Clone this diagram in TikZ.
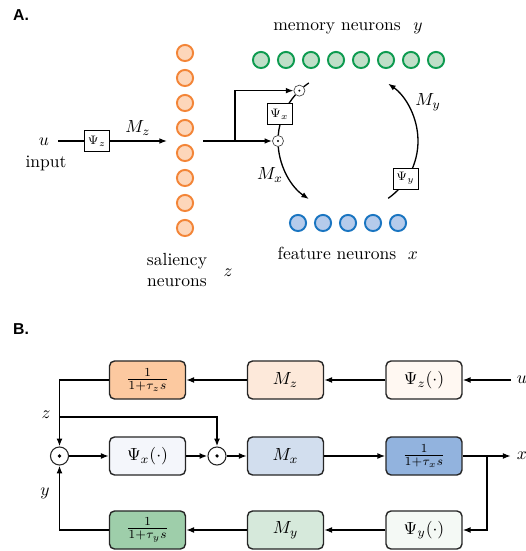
\documentclass[tikz,border=0pt]{standalone}
\usepackage{fontspec}
\newfontfamily\panelfont{Liberation Sans}
\usetikzlibrary{arrows.meta,calc}
\definecolor{orS}{RGB}{243,133,56}
\definecolor{orF}{RGB}{253,214,186}
\definecolor{grS}{RGB}{14,155,80}
\definecolor{grF}{RGB}{192,223,200}
\definecolor{blS}{RGB}{26,117,193}
\definecolor{blF}{RGB}{182,203,235}
\definecolor{bTz}{RGB}{252,201,160}
\definecolor{bMz}{RGB}{253,233,218}
\definecolor{bPz}{RGB}{255,248,242}
\definecolor{bPx}{RGB}{244,246,251}
\definecolor{bMx}{RGB}{210,222,238}
\definecolor{bTx}{RGB}{146,179,222}
\definecolor{bTy}{RGB}{158,206,170}
\definecolor{bMy}{RGB}{214,233,219}
\definecolor{bPy}{RGB}{244,249,245}
\begin{document}
\begin{tikzpicture}[x=0.57pt,y=0.57pt,
  neuron/.style={circle,line width=1.1pt,minimum size=9.2pt,inner sep=0pt},
  smallbox/.style={draw,line width=0.5pt,fill=white,minimum width=14.3pt,minimum height=12pt,inner sep=0pt,font=\scriptsize},
  odotA/.style={circle,draw=black!70,line width=0.4pt,fill=white,minimum size=6.3pt,inner sep=0pt,
    path picture={\fill[black] (path picture bounding box.center) circle (0.6pt);}},
  odotB/.style={circle,draw=black!85,line width=0.6pt,fill=white,minimum size=10.3pt,inner sep=0pt,
    path picture={\fill[black] (path picture bounding box.center) circle (1pt);}},
  blk/.style={draw=black!85,line width=0.8pt,rounded corners=2.9pt,minimum width=43.3pt,minimum height=21.7pt,inner sep=0pt},
  conA/.style={line width=0.75pt},
  arrA/.style={conA,-{Latex[length=4.3pt,width=3.2pt]}},
  conB/.style={line width=0.85pt},
  arrB/.style={conB,-{Latex[length=4.5pt,width=3.4pt]}},
  panel/.style={font=\panelfont\bfseries\fontsize{9}{10}\selectfont},
  lab/.style={anchor=base,inner sep=0pt},
]
\useasboundingbox (0,0) rectangle (526,551);

% ---------------- Panel A ----------------
\node[panel] (lA) at (21,536) {A.};
\foreach \i in {0,...,7}
  \node[neuron,draw=orS,fill=orF] (z\i) at (185,498-25*\i) {};
\foreach \i in {0,...,7}
  \node[neuron,draw=grS,fill=grF] (y\i) at (261+25*\i,491) {};
\foreach \i in {0,...,4}
  \node[neuron,draw=blS,fill=blF] (x\i) at (298+25*\i,328) {};

\node[lab] (memlab) at (337,520) {memory neurons};
\node[lab] (ylabA) at (418,520) {$y$};
\node[lab] (featlab) at (337,291) {feature neurons};
\node[lab] (xlabA) at (413,291) {$x$};
\node[lab,align=center] (sallab) at (177,264) {saliency\\neurons};
\node[lab] (zlabA) at (228,274) {$z$};
\node[lab] (uA) at (44,405) {$u$};
\node[lab] (inlab) at (46,383) {input};
\node[lab] (mzlab) at (138,418) {$M_z$};
\node[lab] (mxlab) at (270,371) {$M_x$};
\node[lab] (mylab) at (428,445) {$M_y$};

\coordinate (uAe) at (58,410);
\coordinate (zin) at (167,410);
\coordinate (zout) at (203,410);
\coordinate (br) at (235,410);
\coordinate (C) at (348,410);

\node[smallbox] (psiz) at (97,410) {$\Psi_z$};
\draw[conA] (uAe) -- (psiz);
\draw[arrA] (psiz) -- (zin);

% ring
\draw[conA] ($(C)+(175.5:70)$) arc[start angle=175.5,end angle=138.5,radius=70];
\draw[conA] ($(C)+(129.5:70)$) arc[start angle=129.5,end angle=124,radius=70];
\draw[arrA] ($(C)+(184.5:70)$) arc[start angle=184.5,end angle=236,radius=70];
\draw[arrA] ($(C)+(305:70)$) arc[start angle=305,end angle=415,radius=70];

\node[odotA] (oL) at ($(C)+(180:70)$) {};
\node[odotA] (oT) at ($(C)+(134:70)$) {};
\node[smallbox] (psix) at (279.5,437) {$\Psi_x$};
\node[smallbox] (psiy) at (405.5,372.5) {$\Psi_y$};

\draw[arrA] (zout) -- (oL);
\draw[arrA] (br) |- (oT);

% ---------------- Panel B ----------------
\node[panel] (lB) at (21,222) {B.};

\node[blk,fill=bTz] (tz) at (147.5,171) {$\frac{1}{1+\tau_z s}$};
\node[blk,fill=bMz] (mz) at (285.5,171) {$M_z$};
\node[blk,fill=bPz] (pz) at (424,171) {$\Psi_z(\cdot)$};
\node (uB) at (522,171) {$u$};

\node[odotB] (o1) at (59.5,95) {};
\node[blk,fill=bPx] (px) at (147.5,95) {$\Psi_x(\cdot)$};
\node[odotB] (o2) at (217,95) {};
\node[blk,fill=bMx] (mx) at (285.5,95) {$M_x$};
\node[blk,fill=bTx] (tx) at (424,95) {$\frac{1}{1+\tau_x s}$};
\node (xB) at (522,95) {$x$};

\node[blk,fill=bTy] (ty) at (147.5,21) {$\frac{1}{1+\tau_y s}$};
\node[blk,fill=bMy] (my) at (285.5,21) {$M_y$};
\node[blk,fill=bPy] (py) at (424,21) {$\Psi_y(\cdot)$};

\coordinate (zj) at (59.5,134);
\coordinate (jx) at (487,95);
\node (zlabB) at (46,136) {$z$};
\node (ylabB) at (45,58) {$y$};

\draw[arrB] (uB) -- (pz);
\draw[arrB] (pz) -- (mz);
\draw[arrB] (mz) -- (tz);
\draw[arrB] (tz) -| (o1);
\draw[arrB] (zj) -| (o2);
\draw[arrB] (ty) -| (o1);
\draw[arrB] (o1) -- (px);
\draw[arrB] (px) -- (o2);
\draw[arrB] (o2) -- (mx);
\draw[arrB] (mx) -- (tx);
\draw[arrB] (tx) -- (xB);
\draw[arrB] (jx) |- (py);
\draw[arrB] (py) -- (my);
\draw[arrB] (my) -- (ty);
\end{tikzpicture}
\end{document}
